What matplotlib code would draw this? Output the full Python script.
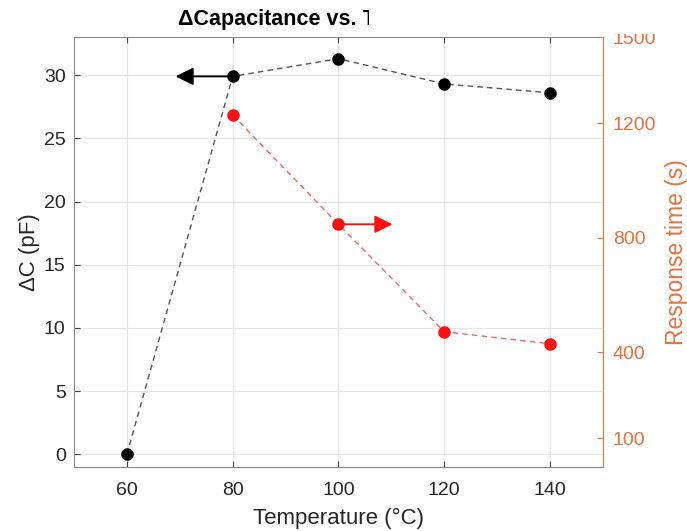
import matplotlib.pyplot as plt
from matplotlib.patches import Rectangle

temperature = [60, 80, 100, 120, 140]
delta_c = [0.0, 29.9, 31.3, 29.3, 28.6]

temp_resp = [80, 100, 120, 140]
response_time = [1228, 847, 472, 430]

x_ticks = [60, 80, 100, 120, 140]
left_ticks = [0, 5, 10, 15, 20, 25, 30]
right_ticks = [100, 400, 800, 1200, 1500]

ORANGE = "#E4733F"
TEXT = "#262626"

plt.rcParams["font.family"] = ["Liberation Sans", "DejaVu Sans"]

fig = plt.figure(figsize=(6.87, 5.31), dpi=100)
ax = fig.add_axes([0.1077, 0.1205, 0.77, 0.8095])
ax2 = ax.twinx()

# left series
ax.plot(temperature, delta_c, linestyle=(0, (4, 3)), color="#555555",
        linewidth=1.0, zorder=2)
ax.plot(temperature, delta_c, "o", color="black", markersize=8, zorder=3)
ax.annotate("", xy=(69.2, delta_c[1]), xytext=(temperature[1], delta_c[1]),
            arrowprops=dict(arrowstyle="-|>,head_length=0.6,head_width=0.3",
                            color="black", lw=1.4,
                            mutation_scale=18, shrinkA=0, shrinkB=0))

# right series
ax2.plot(temp_resp, response_time, linestyle=(0, (4, 3)), color="#E86A6A",
         linewidth=1.0, zorder=2)
ax2.plot(temp_resp, response_time, "o", color="#FF1010", markersize=8, zorder=3)
ax2.annotate("", xy=(110.2, response_time[1]), xytext=(temp_resp[1], response_time[1]),
             arrowprops=dict(arrowstyle="-|>,head_length=0.6,head_width=0.3",
                             color="#FF1010", lw=1.4,
                             mutation_scale=18, shrinkA=0, shrinkB=0))

ax.set_xlim(50, 150)
ax.set_ylim(-1, 33)
ax2.set_ylim(0, 1500)

ax.set_xticks(x_ticks)
ax.set_yticks(left_ticks)
ax2.set_yticks(right_ticks)

ax.grid(True, color="#E6E6E6", linewidth=0.8)
ax.set_axisbelow(True)

ax.tick_params(axis="both", direction="in", labelsize=14, colors="#444444",
               labelcolor=TEXT, top=True, length=4)
ax.tick_params(axis="x", pad=11)
ax.tick_params(axis="y", right=False, pad=6)
ax2.tick_params(axis="y", direction="in", labelsize=14, colors=ORANGE,
                labelcolor=ORANGE, length=4, pad=7)

for side in ["left", "bottom", "top"]:
    ax.spines[side].set_color("#888888")
for side in ["left", "bottom", "top"]:
    ax2.spines[side].set_visible(False)
ax2.spines["right"].set_color(ORANGE)
ax.spines["right"].set_visible(False)

ax.set_xlabel("Temperature (°C)", fontsize=16, color=TEXT, labelpad=6)
ax.set_ylabel("ΔC (pF)", fontsize=16, color=TEXT, labelpad=3)
ax2.set_ylabel("Response time (s)", fontsize=16.5, color=ORANGE, labelpad=6)

fig.text(178 / 687, 1 - 20 / 531, "ΔCapacitance vs. Temperature", fontsize=15.5,
         fontweight="bold", color="black", ha="left", va="center")

# title is cut off in the reference
fig.patches.append(Rectangle((0.5375, 0.936), 0.47, 0.07, transform=fig.transFigure,
                             facecolor="white", edgecolor="none", zorder=10))

fig.savefig("out.png", dpi=100)
